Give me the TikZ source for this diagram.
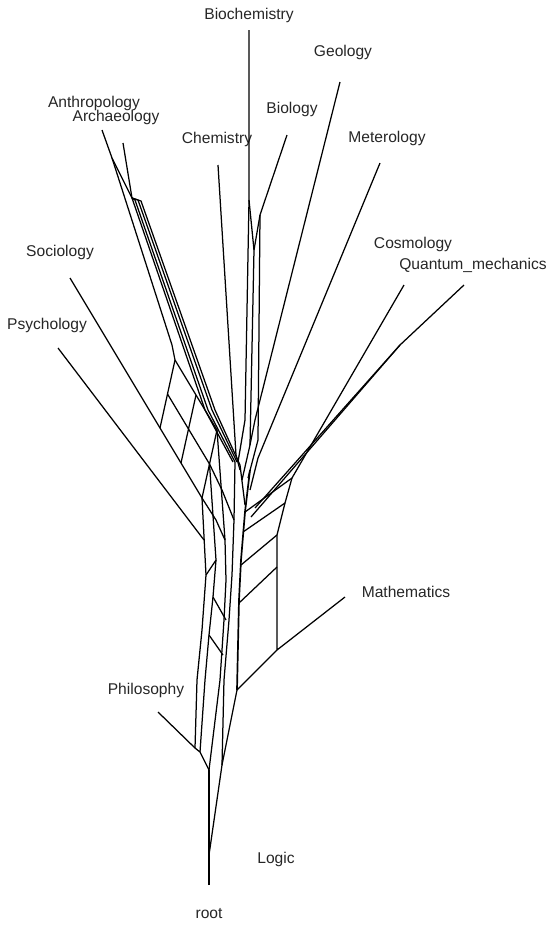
\documentclass[tikz,border=0pt]{standalone}
\usepackage{fontspec}
\setmainfont{Liberation Sans}
\begin{document}
\begin{tikzpicture}[x=1pt,y=-1pt,
  edge/.style={line width=1.25pt,line join=round},
  lbl/.style={font=\fontsize{15.6}{18}\selectfont,anchor=base,text=black!85,inner sep=0pt}]
\useasboundingbox (0,0) rectangle (549,927);
% labels
\node[lbl] (tBio) at (249,19) {Biochemistry};
\node[lbl] (tGeo) at (343,56) {Geology};
\node[lbl] (tAnt) at (94,107) {Anthropology};
\node[lbl] (tArc) at (116,121) {Archaeology};
\node[lbl] (tBiol) at (292,113) {Biology};
\node[lbl] (tChe) at (217,143) {Chemistry};
\node[lbl] (tMet) at (387,142) {Meterology};
\node[lbl] (tSoc) at (60,256) {Sociology};
\node[lbl] (tCos) at (413,248) {Cosmology};
\node[lbl] (tQua) at (473,269) {Quantum\_mechanics};
\node[lbl] (tPsy) at (47,329) {Psychology};
\node[lbl] (tMat) at (406,597) {Mathematics};
\node[lbl] (tPhi) at (146,694) {Philosophy};
\node[lbl] (tLog) at (276,863) {Logic};
\node[lbl] (tRoot) at (209,918) {root};
% leaf coordinates
\coordinate (Bio) at (249,30);
\coordinate (Geo) at (340,82);
\coordinate (Biol) at (287,135);
\coordinate (Che) at (218,165);
\coordinate (Met) at (380,163);
\coordinate (Cos) at (404,285);
\coordinate (Qua) at (464,285);
\coordinate (Ant) at (102,130);
\coordinate (Arc) at (123,143);
\coordinate (Soc) at (70,278);
\coordinate (Psy) at (58,348);
\coordinate (Mat) at (345,597);
\coordinate (Phi) at (158,712);
\coordinate (Root) at (209,885);
\coordinate (Log) at (209,855);
% grid
\foreach \i in {0,1,2}{\foreach \j in {0,1,2}{
  \coordinate (G\i\j) at ({175-7.5*\i+21*\j},{360+34*\i+35*\j});}}
\begin{scope}[edge]
% root and trunk
\draw (Root) -- (Log) -- (209,770);
\draw (Log) -- (222,765);
\draw (Phi) -- (195,748) -- (200,752) -- (209,770);
\draw (195,748) -- (197,680) -- (202,630) -- (206,575) -- (G22);
\draw (200,752) -- (205,680) -- (209,635) -- (213,597) -- (216,560) -- (G12);
\draw (209,770) -- (220,680) -- (224,620) -- (226,580) -- (225,540) -- (G02);
\draw (222,765) -- (224,680) -- (229,620) -- (232,575) -- (234,520) -- (235,462);
\draw (222,765) -- (237,690);
\draw (209,635) -- (223,655);
\draw (213,597) -- (226,620);
\draw (206,575) -- (216,560);
\draw (G22) -- (216,520) -- (225,540);
\draw (G12) -- (222,490) -- (234,520);
% right ladder
\draw[line width=1.7pt] (237,690) -- (239,600) -- (241,560) -- (245,512) -- (250,470);
\draw (Mat) -- (277,650) -- (277,535) -- (285,503) -- (292,478);
\draw (237,690) -- (277,650);
\draw (239,603) -- (277,567);
\draw (241,565) -- (277,535);
\draw (243,532) -- (285,503);
\draw (245,512) -- (292,478);
% cosmology and quantum
\draw (Cos) -- (292,478);
\draw (Qua) -- (400,345) -- (255,508);
\draw (400,345) -- (251,517);
% meterology, geology
\draw (Met) -- (258,458) -- (250,490);
\draw (Geo) -- (255,420) -- (250,445);
% biology, biochemistry
\draw (Bio) -- (249,200) -- (245,420) -- (238,462);
\draw (249,200) -- (254,250) -- (250,445) -- (242,480);
\draw (Biol) -- (260,215) -- (254,250);
\draw (260,215) -- (258,440) -- (248,478);
% chemistry
\draw (Che) -- (236,455) -- (240,470);
% anthropology / archaeology bundle
\draw (Ant) -- (112,158) -- (172,345) -- (G00);
\draw (112,158) -- (132,198);
\draw (Arc) -- (132,198);
\draw (132,198) -- (205,410) -- (233,462);
\draw (132,198) -- (135,200) -- (208,410) -- (235,462);
\draw (132,198) -- (138,200) -- (212,410) -- (237,462);
\draw (132,198) -- (141,201) -- (215,410) -- (240,465) -- (245,505);
% grid
\draw (G00) -- (G10) -- (G20);
\draw (G01) -- (G11) -- (G21);
\draw (G02) -- (G12) -- (G22);
\draw (G00) -- (G01) -- (G02);
\draw (G10) -- (G11) -- (G12);
\draw (G20) -- (G21) -- (G22);
\draw (Soc) -- (G20);
\draw (Psy) -- (204,540);
\end{scope}
\end{tikzpicture}
\end{document}
